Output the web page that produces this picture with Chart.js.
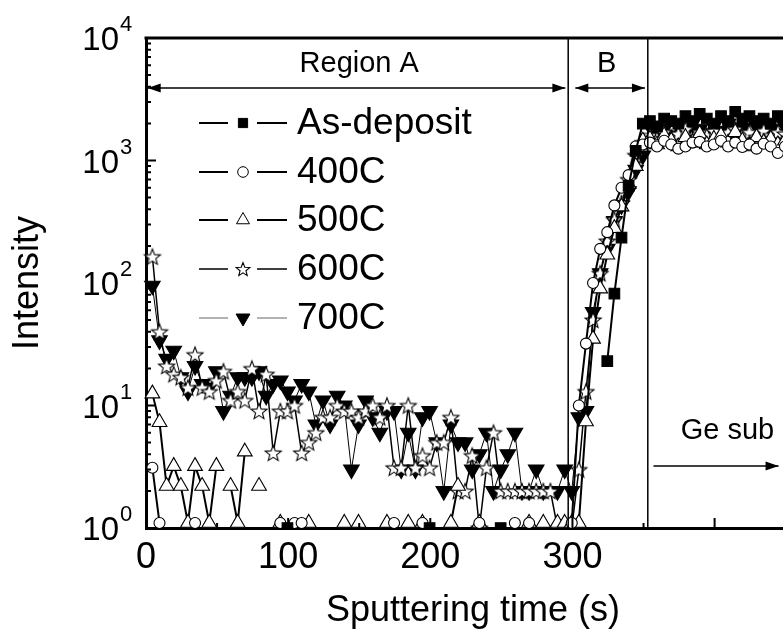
<!DOCTYPE html>
<html>
<head>
<meta charset="utf-8">
<script src="https://cdn.jsdelivr.net/npm/chart.js@4.4.1/dist/chart.umd.min.js"></script>
<style>
  html, body { margin: 0; padding: 0; background: #fff; overflow: hidden; }
  #wrap { width: 810px; height: 633px; }
</style>
</head>
<body>
<div id="wrap"><canvas id="sims" width="810" height="633"></canvas></div>
<script>
// sputtering time (s), one reading every 5 s
const tiempos = [
  4.5, 9.5, 14.5, 19.5, 24.5, 29.5, 34.5, 39.5, 44.5, 49.5,
  54.5, 59.5, 64.5, 69.5, 74.5, 79.5, 84.5, 89.5, 94.5, 99.5,
  104.5, 109.5, 114.5, 119.5, 124.5, 129.5, 134.5, 139.5, 144.5, 149.5,
  154.5, 159.5, 164.5, 169.5, 174.5, 179.5, 184.5, 189.5, 194.5, 199.5,
  204.5, 209.5, 214.5, 219.5, 224.5, 229.5, 234.5, 239.5, 244.5, 249.5,
  254.5, 259.5, 264.5, 269.5, 274.5, 279.5, 284.5, 289.5, 294.5, 299.5,
  304.5, 309.5, 314.5, 319.5, 324.5, 329.5, 334.5, 339.5, 344.5, 349.5,
  354.5, 359.5, 364.5, 369.5, 374.5, 379.5, 384.5, 389.5, 394.5, 399.5,
  404.5, 409.5, 414.5, 419.5, 424.5, 429.5, 434.5, 439.5, 444.5, 449.5,
  454.5
];

// intensity counts; null = no point, 0 = line drops to the axis
const asDeposit = [
  null, null, null, null, null, null, null, null, null, null,
  null, null, null, null, null, null, null, null, null, 1,
  null, null, null, null, null, null, null, null, null, null,
  null, null, null, null, null, null, null, null, null, 1,
  null, null, null, null, null, null, null, null, null, 1,
  null, null, null, null, null, null, null, null, null, null,
  null, null, null, 0, 23, 82, 235, 620, 1200, 2000,
  2100, 1900, 2200, 2100, 2000, 2300, 2100, 2400, 2200, 2000,
  2300, 2100, 2500, 2200, 2300, 2100, 2200, 2000, 2300, 2100,
  2200
];
const c400 = [
  3.1, 1.1, null, null, null, null, 1.1, null, null, null,
  null, null, null, null, null, null, null, null, 1.1, null,
  1.1, 1.1, null, null, null, null, null, null, null, null,
  null, null, null, null, 1.1, null, null, null, 1.1, null,
  null, null, null, null, null, null, 1.1, null, null, null,
  null, 1.1, null, 1.1, null, null, null, null, null, 1.1,
  10, 32, 100, 190, 260, 430, 600, 760, 1300, 1350,
  1400, 1300, 1450, 1350, 1250, 1300, 1400, 1420, 1300, 1350,
  1450, 1300, 1400, 1290, 1350, 1250, 1370, 1300, 1150, 1300,
  1250
];
const c500 = [
  12.5, 7.3, 2.2, 3.2, 2.2, 1.1, 3.2, 2.2, 1.1, 3.2,
  0, 2.2, 1.1, 4.2, 0, 2.2, 0, null, 1.1, null,
  null, null, 1.1, null, null, null, null, 1.1, null, 1.1,
  null, null, null, 1.1, null, null, 1.1, null, 1.1, null,
  null, null, 1.1, 2.2, 0, null, 1.1, null, null, null,
  null, null, null, 1.1, null, 1.1, null, 1.1, 1.1, 1.1,
  1.1, 7.4, 35, 90, 170, 280, 420, 640, 900, 1450,
  1500, 1350, 1600, 1450, 1300, 1550, 1400, 1650, 1350, 1500,
  1600, 1400, 1700, 1450, 1300, 1550, 1400, 1500, 1350, 1450,
  1500
];
const c600 = [
  164, 40, 21, 18, 17, 14, 26, 14, 13, 16,
  19, 11, 13, 11, 20, 9, 18, 4.1, 9, 9,
  10, 4.1, 5, 6, 8, 8, 10, 9, 9, 8,
  9, 10, 8, 10, 3.1, 3.1, 10, 3.1, 3.9, 3.1,
  5, 5, 8, 2, 2, 3.9, 1, 3.1, 6, 2,
  2, 2, 2, 2, 2, 2, 2, 1, 1, 1,
  3, 13, 50, 120, 220, 330, 450, 700, 1100, 1400,
  1600, 1500, 1700, 1550, 1650, 1800, 1500, 1700, 1600, 1750,
  1550, 1700, 1800, 1600, 1700, 1550, 1750, 1600, 1700, 1650,
  1600
];
const c700 = [
  95, 34, 24, 28, 17, 13, 21, 15, 14, 19,
  9, 12, 17, 17, 17, 19, 12, 15, 16, 13,
  11, 15, 13, 7, 11, 7, 12, 10, 3, 7,
  11, 8, 6, 9, 9, 3, 6, 3, 8, 9,
  5, 2, 7, 5, 5, 3, 4, 6, 2, 3,
  4, 6, 2, 2, 3, 2, 0, 2, 3, 2,
  8, 9, 58, 120, 190, 320, 430, 560, 840, 1100,
  1900, 1700, 1800, 1600, 1900, 1700, 2000, 1800, 1600, 1900,
  1750, 2000, 1700, 1850, 1600, 1900, 1750, 1800, 1650, 1900,
  1700
];

const nombres = ['As-deposit', '400C', '500C', '600C', '700C'];
const series = [asDeposit, c400, c500, c600, c700];
const etiquetasX = [0, 100, 200, 300, 400];
const exponentesY = [0, 1, 2, 3, 4];
const limitesRegion = [297, 353];

const fuente = "'Liberation Sans', Arial, sans-serif";

function hacerEstrella(ro, ri) {
  const n = Math.ceil(ro * 2) + 3;
  const c = document.createElement('canvas');
  c.width = n; c.height = n;
  const g = c.getContext('2d');
  g.beginPath();
  for (let i = 0; i < 10; i++) {
    const r = i % 2 === 0 ? ro : ri;
    const a = -Math.PI / 2 + i * Math.PI / 5;
    const px = n / 2 + r * Math.cos(a), py = n / 2 + 0.8 + r * Math.sin(a);
    if (i === 0) g.moveTo(px, py); else g.lineTo(px, py);
  }
  g.closePath();
  g.fillStyle = '#fff';
  g.fill();
  g.lineWidth = 1.1;
  g.strokeStyle = '#000';
  g.stroke();
  return c;
}
const estrella = hacerEstrella(8.4, 3.6);
const estrellaLeyenda = hacerEstrella(7.2, 3.1);

const estilos = [
  { pointStyle: 'rect', rotation: 0, radius: 7.5, legendRadius: 6.5, fill: '#000', line: 2, legendColor: '#000' },
  { pointStyle: 'circle', rotation: 0, radius: 5.5, legendRadius: 5.3, fill: '#fff', line: 2, legendColor: '#000' },
  { pointStyle: 'triangle', rotation: 0, radius: 8.5, legendRadius: 7.5, fill: '#fff', line: 2, legendColor: '#000' },
  { pointStyle: estrella, rotation: 0, radius: 8, legendRadius: 7, fill: '#fff', line: 1.5, legendColor: '#000' },
  { pointStyle: 'triangle', rotation: 180, radius: 9, legendRadius: 8, fill: '#000', line: 1, legendColor: '#666' }
];

function punta(ctx, xx, yy, dir) {
  ctx.beginPath();
  ctx.moveTo(xx, yy);
  ctx.lineTo(xx - dir * 13, yy - 4.5);
  ctx.lineTo(xx - dir * 13, yy + 4.5);
  ctx.closePath();
  ctx.fill();
}

function flecha(ctx, x1, x2, yy, doble) {
  ctx.beginPath();
  ctx.moveTo(x1, yy);
  ctx.lineTo(x2, yy);
  ctx.stroke();
  punta(ctx, x2, yy, 1);
  if (doble) punta(ctx, x1, yy, -1);
}

const decoracion = {
  id: 'decoracion',
  afterDatasetsDraw(chart) {
    const { ctx, chartArea: a, scales: { x, y } } = chart;
    ctx.save();
    ctx.strokeStyle = '#000';
    ctx.fillStyle = '#000';

    // top frame
    ctx.lineWidth = 3;
    ctx.beginPath();
    ctx.moveTo(a.left - 1.5, a.top);
    ctx.lineTo(a.right + 2, a.top);
    ctx.stroke();

    // inward ticks
    ctx.lineWidth = 2;
    ctx.beginPath();
    exponentesY.forEach(e => {
      const yy = y.getPixelForValue(Math.pow(10, e));
      ctx.moveTo(a.left, yy); ctx.lineTo(a.left + 10, yy);
      if (e < 4) {
        for (let m = 2; m <= 9; m++) {
          const ym = y.getPixelForValue(m * Math.pow(10, e));
          ctx.moveTo(a.left, ym); ctx.lineTo(a.left + 5, ym);
        }
      }
    });
    etiquetasX.forEach(v => {
      if (v > 0) {
        const xx = x.getPixelForValue(v);
        ctx.moveTo(xx, a.bottom); ctx.lineTo(xx, a.bottom - 10);
      }
      const xm = x.getPixelForValue(v + 50);
      ctx.moveTo(xm, a.bottom); ctx.lineTo(xm, a.bottom - 5);
    });
    ctx.stroke();

    // y tick labels 10^n
    ctx.textBaseline = 'middle';
    exponentesY.forEach(e => {
      const yy = y.getPixelForValue(Math.pow(10, e));
      ctx.font = '33px ' + fuente;
      ctx.textAlign = 'right';
      ctx.fillText('10', 119, yy + 3);
      ctx.font = '22px ' + fuente;
      ctx.textAlign = 'left';
      ctx.fillText(String(e), 120, yy - 13);
    });

    // region boundaries
    ctx.lineWidth = 1.5;
    ctx.beginPath();
    limitesRegion.forEach(v => {
      const xx = x.getPixelForValue(v);
      ctx.moveTo(xx, a.top); ctx.lineTo(xx, a.bottom);
    });
    ctx.stroke();

    // arrows
    const yFlecha = y.getPixelForValue(3900);
    flecha(ctx, x.getPixelForValue(1.2), x.getPixelForValue(295), yFlecha, true);
    flecha(ctx, x.getPixelForValue(302), x.getPixelForValue(351), yFlecha, true);
    flecha(ctx, x.getPixelForValue(357), x.getPixelForValue(445), y.getPixelForValue(3.2), false);

    ctx.textAlign = 'center';
    ctx.font = '29px ' + fuente;
    ctx.fillText('Region A', x.getPixelForValue(150), y.getPixelForValue(6140));
    ctx.fillText('B', x.getPixelForValue(324), y.getPixelForValue(6140));
    ctx.fillText('Ge sub', x.getPixelForValue(409), y.getPixelForValue(6.2));

    // legend
    const filas = [123, 172, 220, 269, 318];
    nombres.forEach((nombre, i) => {
      const st = estilos[i];
      const fy = filas[i];
      ctx.strokeStyle = st.legendColor;
      ctx.lineWidth = st.line;
      ctx.beginPath();
      ctx.moveTo(199, fy); ctx.lineTo(228, fy);
      ctx.moveTo(257, fy); ctx.lineTo(287, fy);
      ctx.stroke();
      ctx.strokeStyle = '#000';
      ctx.fillStyle = st.fill;
      ctx.lineWidth = 1;
      Chart.helpers.drawPoint(ctx, {
        pointStyle: i === 3 ? estrellaLeyenda : st.pointStyle,
        rotation: st.rotation,
        radius: st.legendRadius,
        borderWidth: 1
      }, 243, fy);
      ctx.fillStyle = '#000';
      ctx.textAlign = 'left';
      ctx.font = '37px ' + fuente;
      ctx.fillText(nombre, 297, fy + 1);
    });
    ctx.restore();
  }
};

new Chart(document.getElementById('sims'), {
  type: 'scatter',
  data: {
    datasets: series.map((vals, i) => ({
      label: nombres[i],
      data: tiempos.map((t, k) => ({ x: t, y: vals[k] })),
      showLine: true,
      borderColor: '#000',
      borderWidth: estilos[i].line,
      pointStyle: estilos[i].pointStyle,
      rotation: estilos[i].rotation,
      pointRadius: ctx => (ctx.raw && ctx.raw.y === 0) ? 0 : estilos[i].radius,
      pointBackgroundColor: estilos[i].fill,
      pointBorderColor: '#000',
      pointBorderWidth: 1.1,
      spanGaps: false,
      tension: 0,
      clip: { left: 8, top: 0, right: 0, bottom: 0 }
    }))
  },
  options: {
    responsive: false,
    animation: false,
    events: [],
    layout: { padding: { top: 38, right: 8.5, bottom: 0, left: 0 } },
    plugins: { legend: { display: false }, tooltip: { enabled: false } },
    scales: {
      x: {
        type: 'linear',
        min: 0,
        max: 460,
        afterFit: s => { s.height = 105; },
        grid: { display: false, drawTicks: false },
        border: { display: true, color: '#000', width: 3 },
        ticks: {
          stepSize: 100,
          autoSkip: false,
          maxRotation: 0,
          padding: 8,
          color: '#000',
          font: { family: fuente, size: 36 },
          callback: v => etiquetasX.includes(v) ? String(v) : ''
        },
        title: {
          display: true,
          text: 'Sputtering time (s)',
          color: '#000',
          font: { family: fuente, size: 36 },
          padding: { top: 0, bottom: 0 }
        }
      },
      y: {
        type: 'logarithmic',
        min: 1,
        max: 10000,
        afterFit: s => { s.width = 146; },
        grid: { display: false, drawTicks: false },
        border: { display: true, color: '#000', width: 3 },
        ticks: { display: false },
        title: {
          display: true,
          text: 'Intensity',
          color: '#000',
          font: { family: fuente, size: 36 },
          padding: { top: 6, bottom: 0 }
        }
      }
    }
  },
  plugins: [decoracion]
});
</script>
</body>
</html>
